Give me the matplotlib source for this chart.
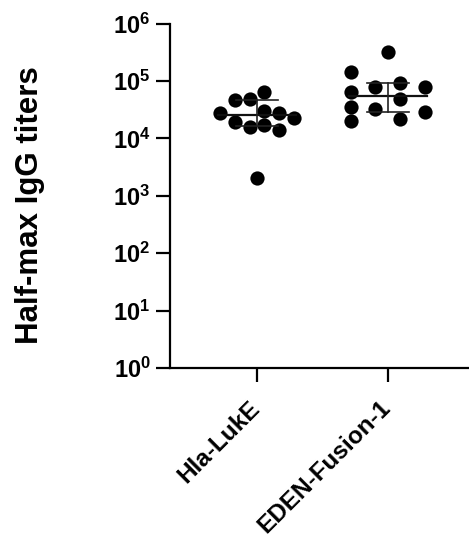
import numpy as np
import matplotlib.pyplot as plt
from matplotlib.transforms import ScaledTranslation

plt.rcParams['font.family'] = ['Liberation Sans', 'DejaVu Sans']
plt.rcParams['mathtext.fontset'] = 'custom'
plt.rcParams['mathtext.rm'] = 'Liberation Sans:bold'
plt.rcParams['mathtext.bf'] = 'Liberation Sans:bold'

# data
groups = ['Hla-LukE', 'EDEN-Fusion-1']
hla_luke = [27700, 47400, 48700, 65300, 30400, 27400, 22400, 19100, 15600, 17100, 14200, 2080]
eden_fusion = [320000, 143000, 65300, 34900, 20300, 78100, 32600, 92900, 48700, 21800, 78100, 28500]
medians = [25600, 55700]
err_low = [16500, 28500]
err_high = [47400, 91700]

# horizontal scatter of the dots (group units)
hla_offsets = [-0.28, -0.17, -0.055, 0.055, 0.055, 0.17, 0.28, -0.17, -0.055, 0.055, 0.17, 0.0]
eden_offsets = [0.0, -0.28, -0.28, -0.28, -0.28, -0.1, -0.1, 0.09, 0.09, 0.09, 0.28, 0.28]


def main():
    fig = plt.figure(figsize=(4.69, 5.41), dpi=100)
    ax = fig.add_axes([0.3625, 0.32, 0.6375, 0.636])

    for i, (vals, offs) in enumerate([(hla_luke, hla_offsets), (eden_fusion, eden_offsets)]):
        ax.scatter(i + np.array(offs), vals, s=105, color='black', zorder=3, linewidths=0)
        ax.plot([i - 0.3, i + 0.3], [medians[i]] * 2, color='#111111', lw=1.6, zorder=4)
        ax.plot([i, i], [err_low[i], err_high[i]], color='#222222', lw=1.2, zorder=4)
        for e in (err_low[i], err_high[i]):
            ax.plot([i - 0.157, i + 0.157], [e, e], color='#222222', lw=1.2, zorder=4)

    ax.set_yscale('log')
    ax.set_ylim(1, 1e6)
    ax.set_xlim(-0.664, 1.618)
    ax.set_yticks([10.0 ** k for k in range(7)])
    ax.set_yticklabels([r'$\mathbf{10^{%d}}$' % k for k in range(7)], fontsize=17)
    ax.yaxis.set_minor_locator(plt.NullLocator())
    ax.set_xticks([0, 1])
    ax.set_xticklabels(groups, rotation=45, ha='right', rotation_mode='anchor',
                       fontsize=17.5, fontweight='bold')

    ax.spines['top'].set_visible(False)
    ax.spines['right'].set_visible(False)
    for sp in ('left', 'bottom'):
        ax.spines[sp].set_linewidth(1.6)
    ax.tick_params(axis='both', length=10, width=1.6, pad=4)

    # nudge the slanted group names down-left, after tick_params resets transforms
    shift = ScaledTranslation(-6.5 / 72, -6.5 / 72, fig.dpi_scale_trans)
    for lbl in ax.get_xticklabels():
        lbl.set_transform(lbl.get_transform() + shift)

    ax.set_ylabel('Half-max IgG titers', fontsize=22.5, fontweight='bold')
    ax.yaxis.set_label_coords(-0.418, 0.474)

    fig.savefig('out.png', dpi=100)


if __name__ == "__main__":
    main()
